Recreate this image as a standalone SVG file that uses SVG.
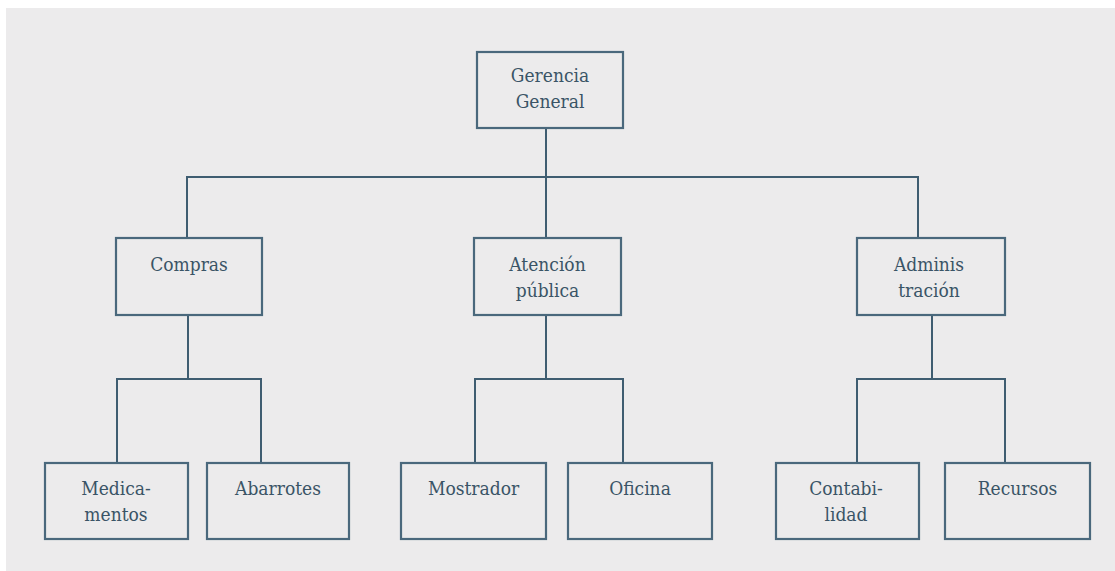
<svg xmlns="http://www.w3.org/2000/svg" width="1115" height="571" viewBox="0 0 1115 571">
<style>
.box{fill:#ecebec;stroke:#4a687c;stroke-width:2.2}
.con{fill:none;stroke:#3f5d71;stroke-width:2}
.t{font-family:"DejaVu Serif Condensed","DejaVu Serif","Liberation Serif",serif;font-stretch:condensed;font-size:19px;fill:#3a5466;text-anchor:middle}
</style>
<rect x="0" y="0" width="1115" height="571" fill="#ffffff"/>
<rect x="6" y="8" width="1109" height="563" fill="#ecebec"/>
<g id="connectors">
<path class="con" d="M546 128V238M187 238V177H918V238"/>
<path class="con" d="M188 315V379M117 463V379H261V463"/>
<path class="con" d="M546 315V379M475 463V379H623V463"/>
<path class="con" d="M932 315V379M857 463V379H1005V463"/>
</g>
<g id="gerencia"><rect class="box" x="477" y="52" width="146" height="76"/><text class="t" x="550" y="82">Gerencia</text><text class="t" x="550" y="108">General</text></g>
<g id="compras"><rect class="box" x="116" y="238" width="146" height="77"/><text class="t" x="189" y="271">Compras</text></g>
<g id="atencion"><rect class="box" x="474" y="238" width="147" height="77"/><text class="t" x="547.5" y="271">Atención</text><text class="t" x="547.5" y="297">pública</text></g>
<g id="administracion"><rect class="box" x="857" y="238" width="148" height="77"/><text class="t" x="929" y="271">Adminis</text><text class="t" x="929" y="297">tración</text></g>
<g id="medicamentos"><rect class="box" x="45" y="463" width="143" height="76"/><text class="t" x="116" y="495">Medica-</text><text class="t" x="116" y="521">mentos</text></g>
<g id="abarrotes"><rect class="box" x="207" y="463" width="142" height="76"/><text class="t" x="278" y="495">Abarrotes</text></g>
<g id="mostrador"><rect class="box" x="401" y="463" width="145" height="76"/><text class="t" x="473.5" y="495">Mostrador</text></g>
<g id="oficina"><rect class="box" x="568" y="463" width="144" height="76"/><text class="t" x="640" y="495">Oficina</text></g>
<g id="contabilidad"><rect class="box" x="776" y="463" width="143" height="76"/><text class="t" x="846" y="495">Contabi-</text><text class="t" x="846" y="521">lidad</text></g>
<g id="recursos"><rect class="box" x="945" y="463" width="145" height="76"/><text class="t" x="1017.5" y="495">Recursos</text></g>
</svg>
